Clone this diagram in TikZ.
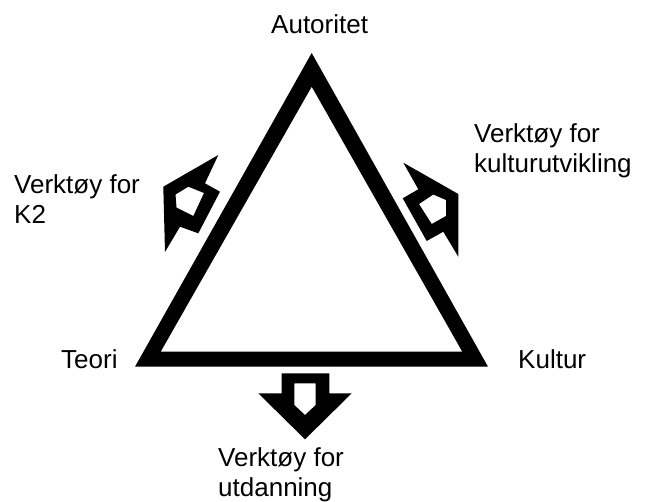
\documentclass[tikz,border=0pt]{standalone}
\usepackage{fontspec}
\setmainfont{Liberation Sans}
\begin{document}
\begin{tikzpicture}[x=1pt,y=-1pt,
  lbl/.style={inner sep=0pt,font=\fontsize{26}{30}\selectfont},
  solid shape/.style={fill=black,even odd rule}]
\useasboundingbox (0,0) rectangle (645,501);
% triangle
\fill[solid shape] (311.7,53) -- (135,366.7) -- (488,366.7) -- cycle
  (311.7,86.7) -- (160.7,351.7) -- (462.3,351.7) -- cycle;
% bottom arrow
\fill[solid shape] (281.7,373.3) -- (329.3,373.3) -- (329.3,393.3) -- (351.7,393.3) -- (305,439.3) -- (258.3,393.3) -- (281.7,393.3) -- cycle
  (294.3,383.3) -- (315.7,383.3) -- (315.7,405) -- (305,415) -- (294.3,405) -- cycle;
% left arrow
\fill[solid shape] (218.3,155) -- (205,183.3) -- (220,191.7) -- (198.3,233.3) -- (180,226.7) -- (165,252) -- (163.3,186.7) -- cycle
  (188.3,186.7) -- (204,193) -- (193.3,216) -- (176.5,207.5) -- (175.5,194.5) -- cycle;
% right arrow
\fill[solid shape] (403.3,162.7) -- (458.3,194) -- (458.3,256.7) -- (443.3,231.7) -- (426.7,241) -- (402.7,198.3) -- (418.3,189.3) -- cycle
  (433.3,194.5) -- (446,200) -- (446,216) -- (431.7,224) -- (419,204) -- cycle;
% labels
\node[lbl,anchor=base west] (aut) at (271,33) {Autoritet};
\node[lbl,anchor=base west,align=left] (kut) at (474,172) {Verktøy for\\kulturutvikling};
\node[lbl,anchor=base west,align=left] (k2) at (14,223) {Verktøy for\\K2};
\node[lbl,anchor=base west] (teo) at (61,368) {Teori};
\node[lbl,anchor=base west] (kul) at (518,368) {Kultur};
\node[lbl,anchor=base west,align=left] (utd) at (218,496) {Verktøy for\\utdanning};
\end{tikzpicture}
\end{document}
